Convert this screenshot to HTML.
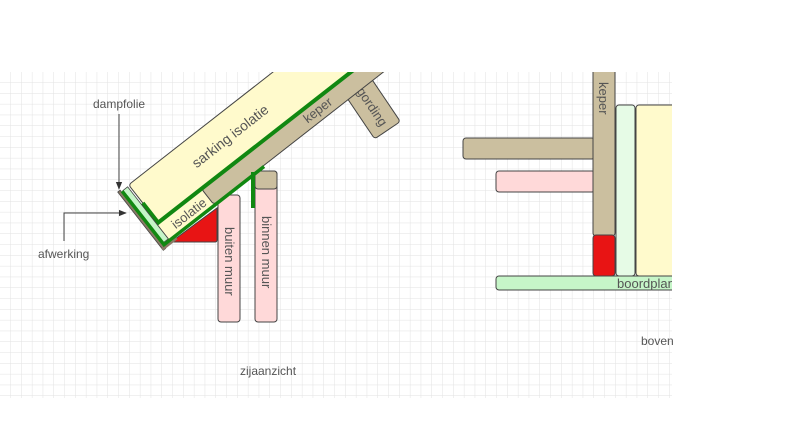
<!DOCTYPE html>
<html><head><meta charset="utf-8"><style>
html,body{margin:0;padding:0;background:#fff;}
svg{display:block;font-family:"Liberation Sans",sans-serif;}
</style></head><body>
<svg width="800" height="425" viewBox="0 0 800 425" xmlns="http://www.w3.org/2000/svg">
<defs>
<pattern id="g" x="0" y="72" width="10.8" height="10.8" patternUnits="userSpaceOnUse">
<path d="M10.8 0V10.8H0" fill="none" stroke="#e2e2e2" stroke-width="1"/>
</pattern>
<clipPath id="c"><rect x="0" y="72" width="672" height="326"/></clipPath>
<marker id="ah" viewBox="0 0 10 10" refX="9" refY="5" markerWidth="8" markerHeight="8" orient="auto"><path d="M0 1L10 5L0 9z" fill="#333"/></marker>
</defs>
<rect x="0" y="72" width="672" height="326" fill="url(#g)"/>
<g clip-path="url(#c)" stroke="#444" stroke-width="1">
<!-- gording -->
<g transform="translate(373.5,109.5) rotate(56)">
<rect x="-35" y="-15.5" width="60" height="31" rx="3" fill="#cbbf9f"/>
<text x="-3" y="4" font-size="13" fill="#555" stroke="none" text-anchor="middle">gording</text>
</g>
<!-- walls -->
<rect x="218" y="195" width="22" height="127" rx="3" fill="#ffd9d9"/>
<rect x="255" y="171" width="22" height="151" rx="3" fill="#ffd9d9"/>
<rect x="255" y="171" width="22" height="18" rx="3" fill="#cbbf9f"/>
<text transform="translate(225,227) rotate(90)" font-size="13" fill="#555" stroke="none">buiten muur</text>
<text transform="translate(262,216) rotate(90)" font-size="13" fill="#555" stroke="none">binnen muur</text>
<!-- red triangle -->
<path d="M171 242L217 208L217 240Q217 242 215 242Z" fill="#e81414" stroke="#444"/>
<!-- roof group -->
<g transform="translate(160,225) rotate(-38)">
<rect x="-2" y="-3" width="60" height="21" fill="#fffacc"/>
<rect x="55" y="-3" width="300" height="20" rx="3" fill="#cbbf9f"/>
<rect x="0" y="-51" width="360" height="48" rx="3" fill="#fffacc"/>
<text x="110" y="-22" font-size="14" fill="#555" stroke="none" text-anchor="middle">sarking isolatie</text>
<text x="195" y="11" font-size="13" fill="#555" stroke="none" text-anchor="middle">keper</text>
<text x="30" y="13" font-size="13" fill="#555" stroke="none" text-anchor="middle">isolatie</text>
<path d="M0 -28V-3H360" fill="none" stroke="#118811" stroke-width="4"/>
<rect x="-13" y="-52" width="3" height="74" fill="#8a7a66" stroke="#444" stroke-width="0.8"/>
<rect x="-13" y="19" width="18" height="3" fill="#8a7a66" stroke="none"/>
<rect x="-8" y="-50" width="6" height="66" fill="#c6f5c8" stroke="#444" stroke-width="0.8"/>
<path d="M-9 -50V18H118" fill="none" stroke="#118811" stroke-width="3.5"/>
</g>
<path d="M253 172V208" stroke="#118811" stroke-width="4"/>
<!-- right view -->
<rect x="463" y="138" width="132" height="21" rx="3" fill="#cbbf9f"/>
<rect x="496" y="171" width="99" height="21" rx="3" fill="#ffd9d9"/>
<rect x="593" y="60" width="22" height="176" rx="3" fill="#cbbf9f"/>
<rect x="593" y="235" width="22" height="41" rx="3" fill="#e81414"/>
<rect x="616" y="105" width="19" height="171" rx="3" fill="#e6fbe6"/>
<rect x="636" y="105" width="60" height="171" rx="3" fill="#fffacc"/>
<rect x="496" y="276" width="200" height="14" rx="3" fill="#c6f5c8"/>
<text transform="translate(599,82) rotate(90)" font-size="13" fill="#555" stroke="none">keper</text>
<text x="617" y="288" font-size="13" fill="#555" stroke="none">boordplank</text>
</g>
<!-- arrows & labels -->
<text x="93" y="108" font-size="12" fill="#555">dampfolie</text>
<path d="M119 114V189" stroke="#444" fill="none" marker-end="url(#ah)"/>
<text x="38" y="258" font-size="12" fill="#555">afwerking</text>
<path d="M64 241V213H126" stroke="#444" fill="none" marker-end="url(#ah)"/>
<text x="240" y="375" font-size="12" fill="#555">zijaanzicht</text>
<text x="641" y="345" font-size="12" fill="#555">boven</text>
</svg>
</body></html>
